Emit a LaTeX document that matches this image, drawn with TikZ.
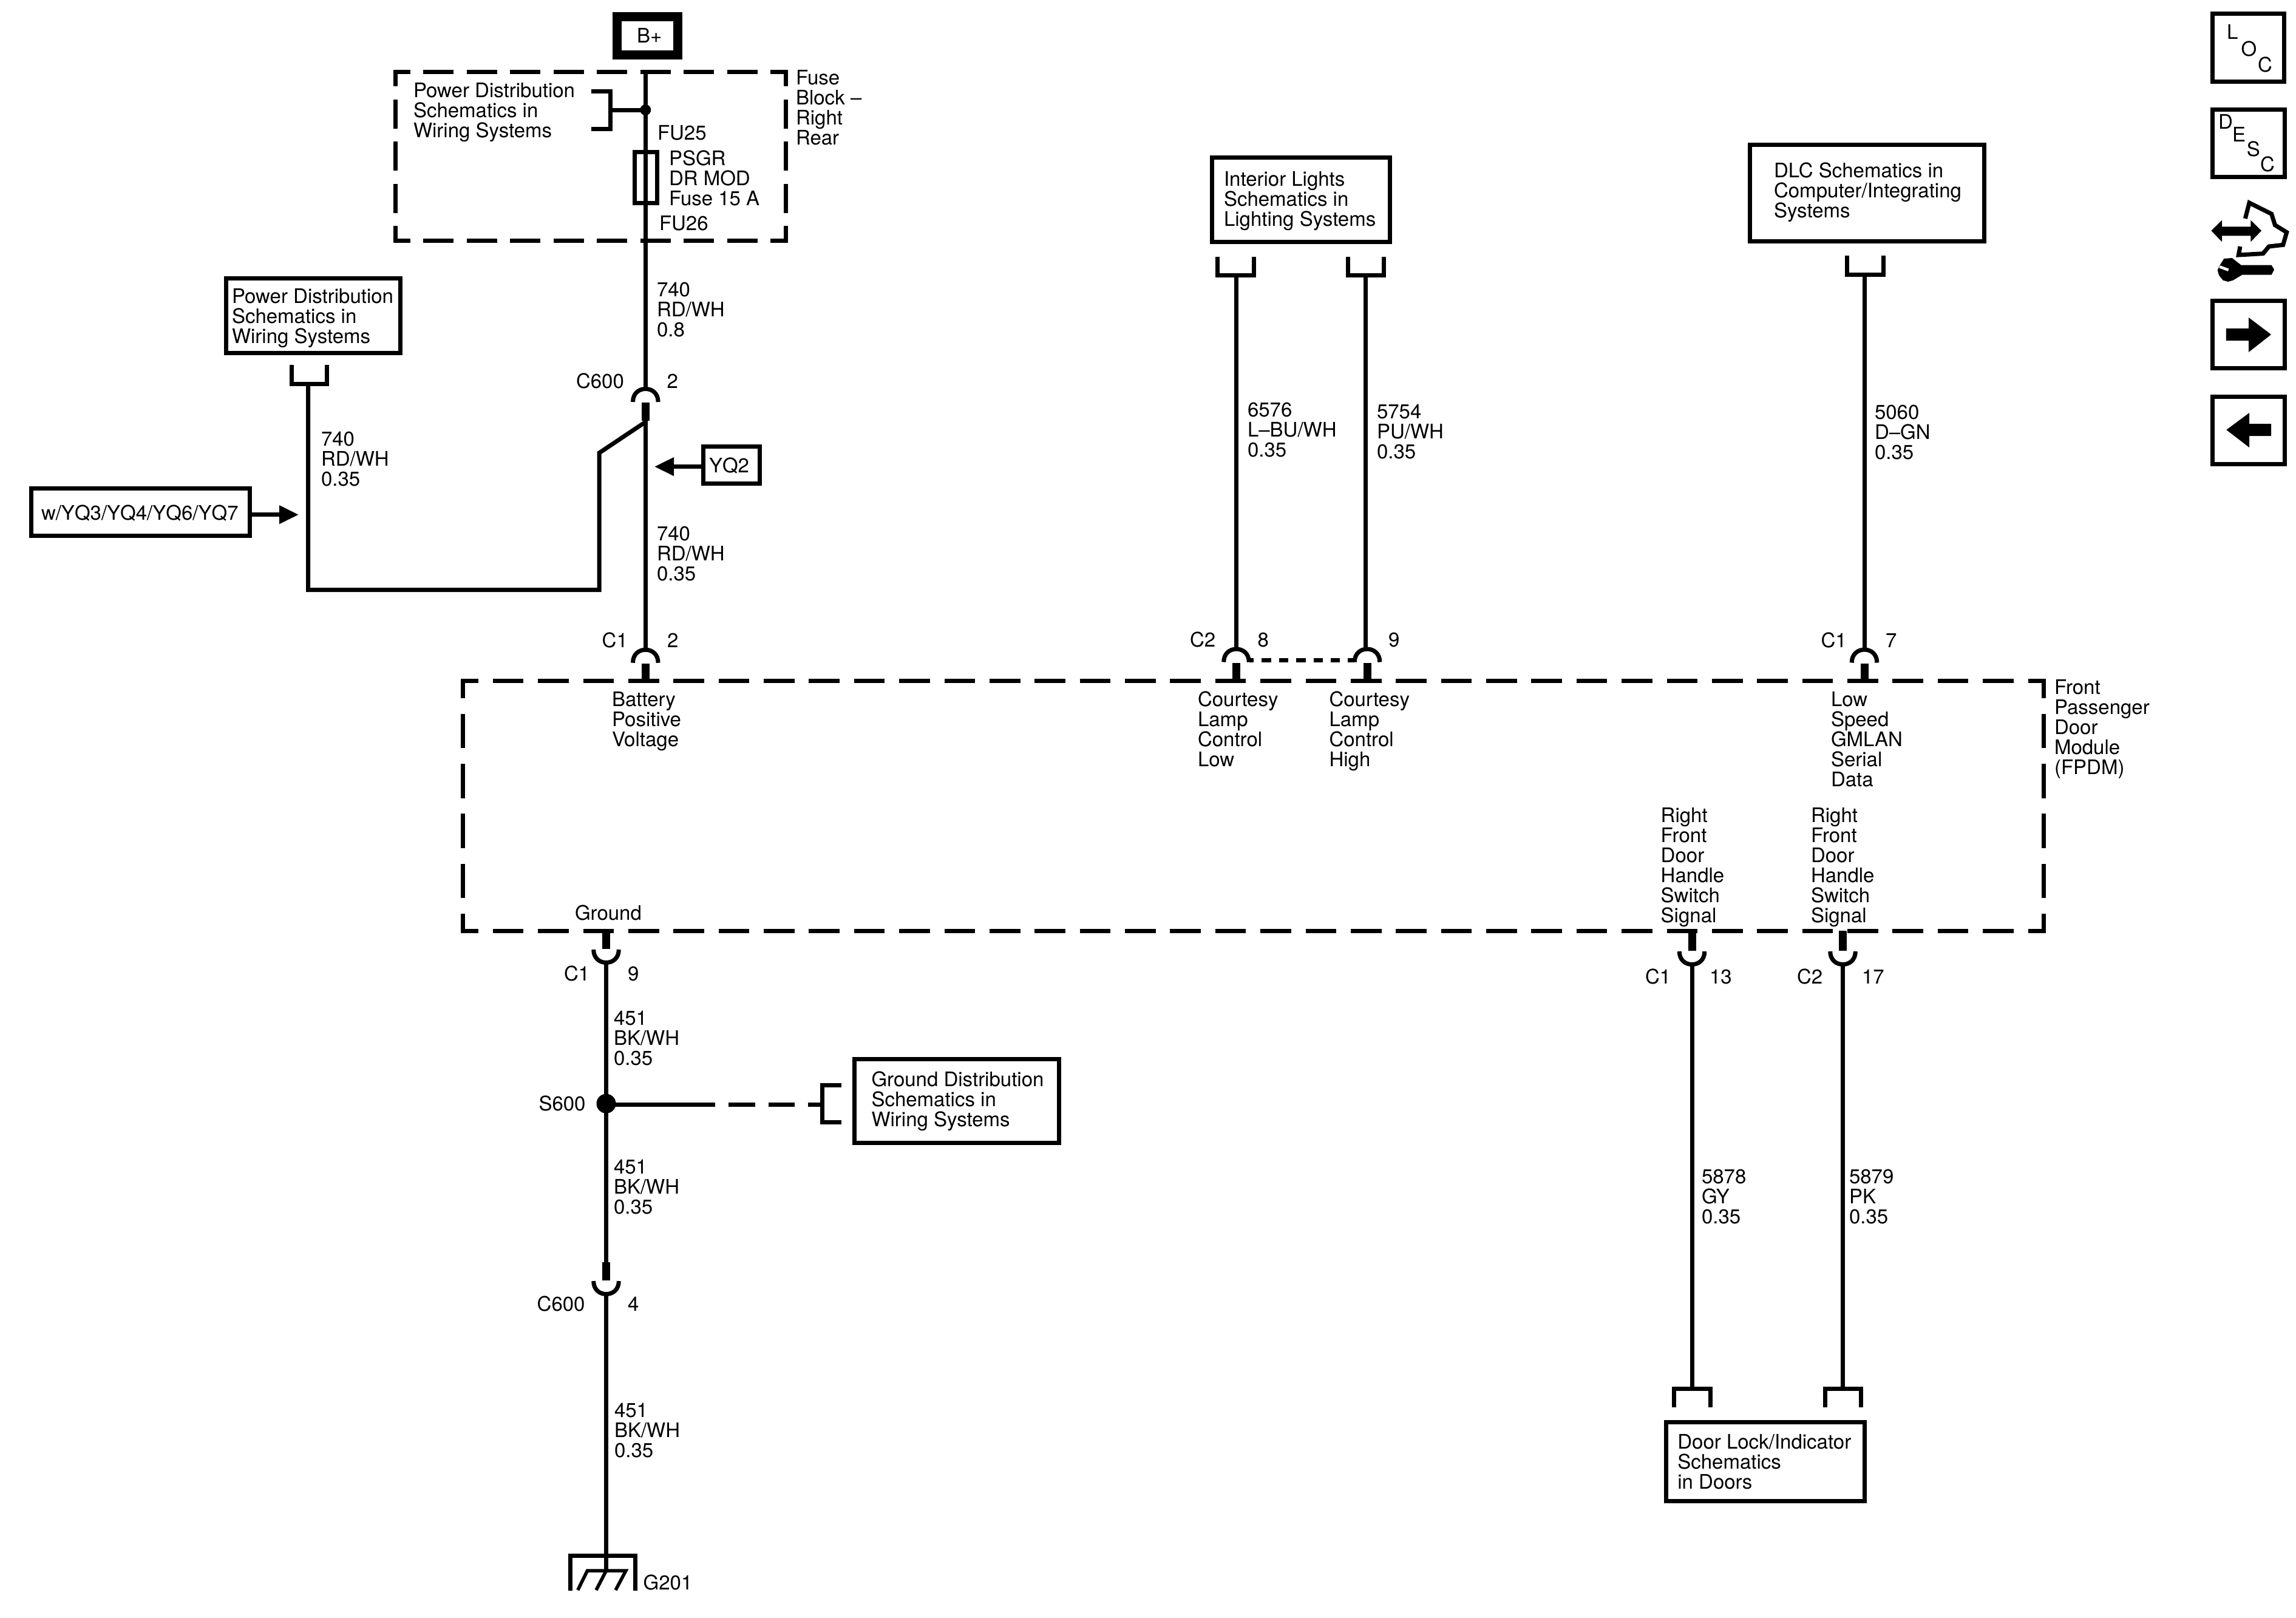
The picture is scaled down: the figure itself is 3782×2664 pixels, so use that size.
\documentclass[tikz,border=0pt]{standalone}
\usepackage{fontspec}
\setmainfont{TeX Gyre Heros}
\usetikzlibrary{arrows.meta,calc}
\AtBeginDocument{\lineskiplimit=-20pt\relax}
\tikzset{
  txt/.style={anchor=base west,inner sep=0pt,outer sep=0pt,align=left,font=\fontsize{18.78}{18.78}\selectfont},
  wire/.style={line width=0.14cm,line join=miter},
  stubline/.style={line width=0.26cm},
  boxs/.style={draw,line width=0.14cm,inner sep=0pt,outer sep=0pt,rectangle},
  dotnode/.style={circle,fill=black,inner sep=0pt,outer sep=0pt},
  dashMH/.style={line width=0.14cm,dash pattern=on 1.012cm off 0.4758cm,dash phase=0.436cm},
  dashMV/.style={line width=0.14cm,dash pattern=on 1.13cm off 0.518cm,dash phase=0.565cm},
  dashFH/.style={line width=0.14cm,dash pattern=on 1.0cm off 0.43cm,dash phase=0.43cm},
  dashFV/.style={line width=0.14cm,dash pattern=on 0.96cm off 0.4275cm,dash phase=0.48cm},
  dashC/.style={line width=0.13cm,dash pattern=on 0.306cm off 0.262cm,dash phase=0.16cm},
  dashG/.style={line width=0.14cm,dash pattern=on 0.88cm off 0.43cm},
  arrowtip/.style={-{Triangle[length=0.64cm,width=0.58cm]}}
}
\newcommand{\pxbox}[6][]{%
  \pgfmathsetmacro\tmpw{(#5-#3)*0.02}%
  \pgfmathsetmacro\tmph{(#6-#4)*0.02}%
  \node[boxs,minimum width=\tmpw cm,minimum height=\tmph cm,#1] (#2) at ({(#3+#5)/2},{(#4+#6)/2}) {};}
\newcommand{\conn}[5]{%
  \begin{scope}[shift={(#2,#3)},yscale=#4]
    \draw[wire] (-20.8,25) .. controls (-20.8,11) and (-11,3.5) .. (0,3.5) .. controls (11,3.5) and (20.8,11) .. (20.8,25);
    \draw[stubline] (0,26) -- (0,{26+#5});
    \coordinate (#1) at (0,3);
    \coordinate (#1s) at (0,{26+#5});
  \end{scope}}
\begin{document}
\begin{tikzpicture}[x=0.02cm,y=-0.02cm]
\fill[white] (0,0) rectangle (3782,2664);
\useasboundingbox (0,0) rectangle (3782,2664);

% ---------- fuse block
\pxbox[line width=0.3cm]{bplus}{1016}{27.5}{1116}{90.5}
\node[txt] (bplustxt) at (1049,70.7) {B+};
\coordinate (fNW) at (651,118.5);
\coordinate (fNE) at (1294.5,118.5);
\coordinate (fSW) at (651,396);
\coordinate (fSE) at (1294.5,396);
\draw[dashFH] ($(fNW)+(-3.5,0)$) -- ($(fNE)+(3.5,0)$);
\draw[dashFH] ($(fSW)+(-3.5,0)$) -- ($(fSE)+(3.5,0)$);
\draw[dashFV] (fNW) -- (fSW);
\draw[dashFV] (fNE) -- (fSE);
\node[txt] (fbtxt) at (1311,238) {Fuse\\Block –\\Right\\Rear};
\node[txt] (pdtxtA) at (681,226) {Power Distribution\\Schematics in\\Wiring Systems};
\node[txt] (fu25) at (1083,230) {FU25};
\node[txt] (fusetxt) at (1102,338) {PSGR\\DR MOD\\Fuse 15 A};
\node[txt] (fu26) at (1086,379) {FU26};
\pxbox{fuse}{1045}{250}{1082}{334}
\coordinate (wTop) at (1063.3,115);
\coordinate (brA1) at (974,150);
\coordinate (brA2) at (1005.6,150);
\coordinate (brA3) at (1005.6,212);
\coordinate (brA4) at (974,212);
\coordinate (brAm) at (1005.6,181);
\node[dotnode,minimum size=0.36cm] (jA) at (1063.3,181) {};
\draw[wire] (brA1) -- (brA2) -- (brA3) -- (brA4);
\draw[wire] (brAm) -- (jA.center);

% ---------- C600 top
\conn{cT}{1063.3}{637}{1}{30}
\draw[wire] (wTop) -- (cT);
\node[txt] (cTa) at (949,639) {C600};
\node[txt] (cTb) at (1098.7,639) {2};
\node[txt] (w740a) at (1082,554.5) {740\\RD/WH\\0.8};
\node[txt] (w740c) at (1082,956.5) {740\\RD/WH\\0.35};

% ---------- branch with second power box
\pxbox{pdbox}{372.5}{458}{659.5}{581}
\node[txt] (pdtxtB) at (382,565) {Power Distribution\\Schematics in\\Wiring Systems};
\coordinate (brB1) at (480.5,601);
\coordinate (brB2) at (480.5,632);
\coordinate (brB3) at (538,632);
\coordinate (brB4) at (538,601);
\coordinate (brBm) at (507.5,632);
\coordinate (kA) at (507.5,971.5);
\coordinate (kB) at (987,971.5);
\coordinate (kC) at (987,746);
\coordinate (kD) at (1063.3,695);
\draw[wire] (brB1) -- (brB2) -- (brB3) -- (brB4);
\draw[wire] (brBm) -- (kA) -- (kB) -- (kC) -- (kD);
\node[txt] (w740b) at (529,800.5) {740\\RD/WH\\0.35};
\pxbox{yqA}{51.5}{804.5}{411.5}{882}
\node[txt] (yqAtxt) at (68,856) {w/YQ3/YQ4/YQ6/YQ7};
\coordinate (yqAtip) at (492,847.7);
\draw[wire,arrowtip] (yqA.east |- yqAtip) -- (yqAtip);
\pxbox{yqB}{1158.5}{735}{1251}{796}
\node[txt] (yqBtxt) at (1168,778.5) {YQ2};
\coordinate (yqBtip) at (1078,768.6);
\draw[wire,arrowtip] (yqB.west |- yqBtip) -- (yqBtip);

% ---------- module
\coordinate (mNW) at (762.7,1121.5);
\coordinate (mNE) at (3366,1121.5);
\coordinate (mSW) at (762.7,1533.5);
\coordinate (mSE) at (3366,1533.5);
\draw[dashMH] ($(mNW)+(-3.5,0)$) -- ($(mNE)+(3.5,0)$);
\draw[dashMH] ($(mSW)+(-3.5,0)$) -- ($(mSE)+(3.5,0)$);
\draw[dashMV] (mNW) -- (mSW);
\draw[dashMV] (mNE) -- (mSE);
\node[txt] (fpdm) at (3384,1275) {Front\\Passenger\\Door\\Module\\(FPDM)};

% ---------- C1 pin 2
\conn{cA}{1063.3}{1066.7}{1}{29}
\draw[wire] (cTs) -- (cA);
\node[txt] (cAa) at (991.7,1066.5) {C1};
\node[txt] (cAb) at (1099,1066.5) {2};
\node[txt] (pinA) at (1008,1229) {Battery\\Positive\\Voltage};

% ---------- interior lights
\pxbox{ilbox}{1996.5}{259}{2289}{398.5}
\node[txt] (iltxt) at (2016,372.5) {Interior Lights\\Schematics in\\Lighting Systems};
\coordinate (brC1) at (2005,422.5);
\coordinate (brC2) at (2005,453);
\coordinate (brC3) at (2065,453);
\coordinate (brC4) at (2065,422.5);
\coordinate (brCm) at (2036,453);
\coordinate (brD1) at (2220.5,422.5);
\coordinate (brD2) at (2220.5,453);
\coordinate (brD3) at (2279.5,453);
\coordinate (brD4) at (2279.5,422.5);
\coordinate (brDm) at (2249.5,453);
\draw[wire] (brC1) -- (brC2) -- (brC3) -- (brC4);
\draw[wire] (brD1) -- (brD2) -- (brD3) -- (brD4);
\conn{cB}{2036.5}{1065.5}{1}{29.5}
\conn{cC}{2252}{1065.5}{1}{29.5}
\draw[wire] (brCm) -- (brCm |- cB);
\draw[wire] (brDm) -- (brDm |- cC);
\coordinate (dlA) at (2058,1087.3);
\coordinate (dlB) at (2231,1087.3);
\draw[dashC] (dlA) -- (dlB);
\node[txt] (w6576) at (2055,752) {6576\\L–BU/WH\\0.35};
\node[txt] (w5754) at (2268,755) {5754\\PU/WH\\0.35};
\node[txt] (cBa) at (1960,1065.5) {C2};
\node[txt] (cBb) at (2071.7,1065.5) {8};
\node[txt] (cCb) at (2287,1065.5) {9};
\node[txt] (pinB) at (1973,1262) {Courtesy\\Lamp\\Control\\Low};
\node[txt] (pinC) at (2189.5,1262) {Courtesy\\Lamp\\Control\\High};

% ---------- DLC
\pxbox{dlcbox}{2882.5}{238}{3268}{397.5}
\node[txt] (dlctxt) at (2922,358) {DLC Schematics in\\Computer/Integrating\\Systems};
\coordinate (brE1) at (3042.5,421);
\coordinate (brE2) at (3042.5,452);
\coordinate (brE3) at (3102,452);
\coordinate (brE4) at (3102,421);
\coordinate (brEm) at (3071,452);
\draw[wire] (brE1) -- (brE2) -- (brE3) -- (brE4);
\conn{cD}{3071}{1066.5}{1}{29}
\draw[wire] (brEm) -- (cD);
\node[txt] (w5060) at (3088,756) {5060\\D–GN\\0.35};
\node[txt] (cDa) at (2999.5,1066.5) {C1};
\node[txt] (cDb) at (3106,1066.5) {7};
\node[txt] (pinD) at (3016,1295) {Low\\Speed\\GMLAN\\Serial\\Data};

% ---------- ground side
\node[txt] (gndtxt) at (947,1515.7) {Ground};
\conn{cE}{998.5}{1589}{-1}{30}
\node[txt] (cEa) at (929,1615) {C1};
\node[txt] (cEb) at (1034,1615) {9};
\node[txt] (w451a) at (1011,1754) {451\\BK/WH\\0.35};
\node[dotnode,minimum size=0.64cm] (s600) at (998.5,1817.7) {};
\node[txt] (s600txt) at (887.5,1829) {S600};
\draw[wire] (cE) -- (s600.center);
\node[txt] (w451b) at (1011,1999) {451\\BK/WH\\0.35};
\conn{cF}{998.5}{2135}{-1}{30}
\draw[wire] (s600.center) -- (cFs);
\node[txt] (cFa) at (884.7,2159) {C600};
\node[txt] (cFb) at (1034,2159) {4};
\node[txt] (w451c) at (1012,2400.5) {451\\BK/WH\\0.35};
\coordinate (gA) at (939,2620);
\coordinate (gB) at (939,2562.5);
\coordinate (gC) at (1046,2562.5);
\coordinate (gD) at (1046,2620);
\coordinate (gM) at (998.5,2587);
\coordinate (gE) at (967.5,2587);
\coordinate (gF) at (951.7,2619);
\coordinate (gG) at (1031,2587);
\coordinate (gH) at (1014,2619);
\coordinate (gI) at (982,2619);
\draw[wire] (gA) -- (gB) -- (gC) -- (gD);
\draw[wire] (cF) -- (gM);
\draw[line width=0.11cm] (gF) -- (gE) -- (gG) -- (gH);
\draw[line width=0.11cm] (gM) -- (gI);
\node[txt] (g201) at (1059.7,2618) {G201};

% ---------- ground distribution branch
\pxbox{gdbox}{1407.5}{1744}{1744.5}{1882}
\node[txt] (gdtxt) at (1435.5,1855.5) {Ground Distribution\\Schematics in\\Wiring Systems};
\coordinate (brF1) at (1385.5,1787);
\coordinate (brF2) at (1354.5,1787);
\coordinate (brF3) at (1354.5,1848);
\coordinate (brF4) at (1385.5,1848);
\coordinate (brFm) at (1354.5,1819);
\coordinate (gsA) at (1178,1819);
\coordinate (gsB) at (1200,1819);
\draw[wire] (brF1) -- (brF2) -- (brF3) -- (brF4);
\draw[wire] (s600.center |- gsA) -- (gsA);
\draw[dashG] (gsB) -- (brFm);

% ---------- right side pins
\node[txt] (pinE) at (2735.7,1519) {Right\\Front\\Door\\Handle\\Switch\\Signal};
\node[txt] (pinF) at (2983,1519) {Right\\Front\\Door\\Handle\\Switch\\Signal};
\conn{cG}{2787}{1592}{-1}{33}
\conn{cH}{3035.5}{1592}{-1}{33}
\node[txt] (cGa) at (2710,1620) {C1};
\node[txt] (cGb) at (2816,1620) {13};
\node[txt] (cHa) at (2960,1620) {C2};
\node[txt] (cHb) at (3067,1620) {17};
\node[txt] (w5878) at (2803,2015) {5878\\GY\\0.35};
\node[txt] (w5879) at (3046,2015) {5879\\PK\\0.35};
\coordinate (brG1) at (2757,2318);
\coordinate (brG2) at (2757,2287.5);
\coordinate (brG3) at (2817,2287.5);
\coordinate (brG4) at (2817,2318);
\coordinate (brGm) at (2787,2287.5);
\coordinate (brH1) at (3006,2318);
\coordinate (brH2) at (3006,2287.5);
\coordinate (brH3) at (3065.5,2287.5);
\coordinate (brH4) at (3065.5,2318);
\coordinate (brHm) at (3035.5,2287.5);
\draw[wire] (brG1) -- (brG2) -- (brG3) -- (brG4);
\draw[wire] (brH1) -- (brH2) -- (brH3) -- (brH4);
\draw[wire] (cG) -- (brGm);
\draw[wire] (cH) -- (brHm);
\pxbox{dlbox}{2744.5}{2342.5}{3071.5}{2472.5}
\node[txt] (dltxt) at (2763.3,2452) {Door Lock/Indicator\\Schematics\\in Doors};

% ---------- icons, top right
\pxbox{locbox}{3644.5}{22.5}{3762}{134}
\node[txt] (icL) at (3668,64) {L};
\node[txt] (icO) at (3691.5,92) {O};
\node[txt] (icC) at (3719,118) {C};
\pxbox{descbox}{3644.5}{180.5}{3763}{291}
\node[txt] (icD) at (3654,212.8) {D};
\node[txt] (icE) at (3677,233.7) {E};
\node[txt] (icS) at (3700.7,257.6) {S};
\node[txt] (icC2) at (3723,282) {C};
\pxbox{nextbox}{3644.5}{495.5}{3763}{606}
\fill (3666.7,541) -- (3704,541) -- (3704,523) -- (3741,551) -- (3704,580) -- (3704,561) -- (3666.7,561) -- cycle;
\pxbox{prevbox}{3644.5}{653}{3763}{764.5}
\fill (3741,698) -- (3705,698) -- (3705,680) -- (3667.3,708) -- (3705,737) -- (3705,718) -- (3741,718) -- cycle;
\begin{scope}[shift={(3630,320)},x=0.006667cm,y=-0.006667cm]
  \fill (37,180) -- (90,128) -- (90,160) -- (232,160) -- (232,128) -- (285,180) -- (232,235) -- (232,205) -- (90,205) -- (90,235) -- cycle;
  \draw[line width=0.14cm,miter limit=6] (205,120) -- (225,42) -- (335,97) -- (352,152) -- (410,188) -- (392,250) -- (322,258) -- (293,293) -- (172,300) -- (180,258);
  \fill (100,318) -- (140,315) -- (185,350) -- (335,350) -- (348,372) -- (335,398) -- (190,398) -- (145,425) -- (120,432) -- (95,425) -- (75,400) -- (68,375) -- (80,350) -- cycle;
  \draw[white,line width=0.09cm] (78,358) -- (122,374);
\end{scope}
\end{tikzpicture}
\end{document}
